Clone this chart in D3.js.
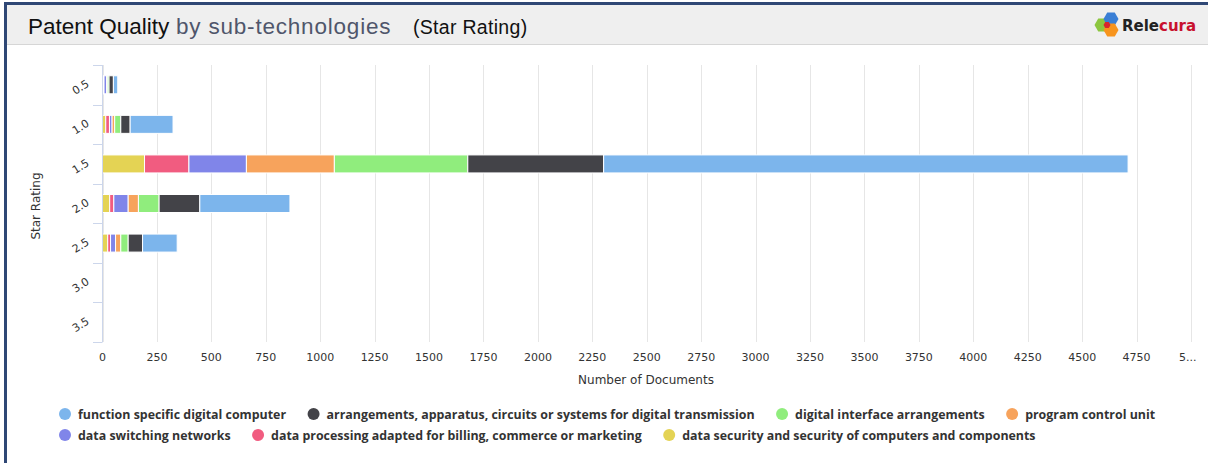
<!DOCTYPE html>
<html>
<head>
<meta charset="utf-8">
<script src="https://cdn.jsdelivr.net/npm/d3@7"></script>
<style>
  body { margin: 0; background: #fff; }
  svg { display: block; }
</style>
</head>
<body>
<svg id="chart" width="1208" height="463"></svg>
<script>
// star rating categories (y axis)
var ratings = ['0.5', '1.0', '1.5', '2.0', '2.5', '3.0', '3.5'];

// series, in legend order
var seriesNames = [
  'function specific digital computer',
  'arrangements, apparatus, circuits or systems for digital transmission',
  'digital interface arrangements',
  'program control unit',
  'data switching networks',
  'data processing adapted for billing, commerce or marketing',
  'data security and security of computers and components'
];
var seriesColors = ['#7cb5ec', '#434348', '#90ed7d', '#f7a35c', '#8085e9', '#f15c80', '#e4d354'];

// documents per rating (same order as ratings)
var functionSpecific    = [20, 197, 2409, 414, 159, 0, 0];
var digitalTransmission = [20, 43, 624, 187, 66, 0, 0];
var digitalInterface    = [8, 28, 613, 95, 34, 0, 0];
var programControl      = [3, 12, 404, 47, 24, 0, 0];
var dataSwitching       = [12, 12, 264, 66, 23, 0, 0];
var billing             = [3, 17, 204, 19, 13, 0, 0];
var dataSecurity        = [4, 15, 193, 33, 24, 0, 0];

var seriesValues = [functionSpecific, digitalTransmission, digitalInterface,
  programControl, dataSwitching, billing, dataSecurity];

var xTicks = [0, 250, 500, 750, 1000, 1250, 1500, 1750, 2000, 2250, 2500, 2750,
  3000, 3250, 3500, 3750, 4000, 4250, 4500, 4750, 5000];
var xMax = 5000;

var svg = d3.select('#chart');

// ---- frame + header ----
svg.append('rect').attr('x', 5).attr('y', 5).attr('width', 1203).attr('height', 39).attr('fill', '#efefef');
svg.append('line').attr('x1', 5).attr('x2', 1208).attr('y1', 44.5).attr('y2', 44.5)
  .attr('stroke', '#d6d6d6').attr('stroke-width', 1);
svg.append('rect').attr('x', 4).attr('y', 2).attr('width', 1204).attr('height', 3).attr('fill', '#2f4775');
svg.append('rect').attr('x', 4).attr('y', 2).attr('width', 3).attr('height', 461).attr('fill', '#2f4775');

var title = svg.append('g').attr('font-family', '"Liberation Sans", Arial, sans-serif');
title.append('text').attr('x', 28).attr('y', 34).attr('font-size', 22.5).attr('fill', '#111')
  .text('Patent Quality');
title.append('text').attr('x', 176).attr('y', 34).attr('font-size', 22.5).attr('letter-spacing', 0.8)
  .attr('fill', '#4f566b').text('by sub-technologies');
title.append('text').attr('x', 413).attr('y', 34).attr('font-size', 19.5).attr('letter-spacing', 0.3)
  .attr('fill', '#111').text('(Star Rating)');

// logo: three hexagons + word mark
var hex = function (cx, cy, r) {
  var pts = d3.range(6).map(function (i) {
    var a = Math.PI / 3 * i;
    return [cx + r * Math.cos(a), cy + r * Math.sin(a)];
  });
  return d3.line()(pts) + 'Z';
};
var logo = svg.append('g');
logo.append('path').attr('d', hex(1102, 25, 7.5)).attr('fill', '#8cc63f');
logo.append('path').attr('d', hex(1111, 19, 7.5)).attr('fill', '#3a7fd5');
logo.append('path').attr('d', hex(1111, 30, 7.5)).attr('fill', '#f7941d');
logo.append('path').attr('d', hex(1107, 25, 3.5)).attr('fill', '#d9262c');
var word = logo.append('text').attr('x', 1122).attr('y', 31)
  .attr('font-family', '"DejaVu Sans", Verdana, sans-serif').attr('font-weight', 'bold').attr('font-size', 15);
word.append('tspan').attr('fill', '#222').text('Rele');
word.append('tspan').attr('fill', '#c8102e').text('cura');

// ---- plot ----
var x = d3.scaleLinear().domain([0, xMax]).range([102.5, 1191]);
var y = d3.scaleBand().domain(ratings).range([65, 342]).padding(0);
var barH = 18;

var plot = svg.append('g');

// vertical grid lines
plot.selectAll('line.grid').data(xTicks).enter().append('line')
  .attr('class', 'grid')
  .attr('x1', function (d) { return Math.round(x(d)) + 0.5; })
  .attr('x2', function (d) { return Math.round(x(d)) + 0.5; })
  .attr('y1', 65).attr('y2', 342)
  .attr('stroke', '#e6e6e6');

// stacked bars; first drawn (leftmost) is the last series in the legend
var rows = ratings.map(function (r, i) {
  var row = { rating: r };
  seriesNames.forEach(function (s, k) { row[s] = seriesValues[k][i]; });
  return row;
});
var stackKeys = seriesNames.slice().reverse();
var stacked = d3.stack().keys(stackKeys)(rows);
var colorOf = d3.scaleOrdinal().domain(seriesNames).range(seriesColors);

plot.selectAll('g.series').data(stacked).enter().append('g')
  .attr('class', 'series')
  .attr('fill', function (d) { return colorOf(d.key); })
  .selectAll('rect').data(function (d) { return d.filter(function (p) { return p[1] > p[0]; }); })
  .enter().append('rect')
  .attr('x', function (d) { return x(d[0]); })
  .attr('width', function (d) { return x(d[1]) - x(d[0]); })
  .attr('y', function (d) { return y(d.data.rating) + y.bandwidth() / 2 - barH / 2; })
  .attr('height', barH)
  .attr('stroke', '#fff').attr('stroke-width', 1);

// category axis (left)
plot.append('line').attr('x1', 102.5).attr('x2', 102.5).attr('y1', 65).attr('y2', 342)
  .attr('stroke', '#ccd6eb');
var boundaries = ratings.map(function (r) { return y(r); }).concat([342]);
plot.selectAll('line.ytick').data(boundaries).enter().append('line')
  .attr('class', 'ytick')
  .attr('x1', 93).attr('x2', 102.5)
  .attr('y1', function (d) { return Math.round(d) + 0.5; })
  .attr('y2', function (d) { return Math.round(d) + 0.5; })
  .attr('stroke', '#ccd6eb');

plot.selectAll('text.ylab').data(ratings).enter().append('text')
  .attr('class', 'ylab')
  .attr('transform', function (d) {
    return 'translate(90,' + (y(d) + y.bandwidth() / 2 + 1) + ') rotate(-32)';
  })
  .attr('text-anchor', 'end')
  .attr('font-family', '"DejaVu Sans", Verdana, sans-serif').attr('font-size', 11)
  .attr('fill', '#333')
  .text(function (d) { return d; });

// value axis labels
plot.selectAll('text.xlab').data(xTicks).enter().append('text')
  .attr('class', 'xlab')
  .attr('x', function (d) { return d === xMax ? x(d) - 12 : x(d); })
  .attr('y', 361)
  .attr('text-anchor', function (d) { return d === xMax ? 'start' : 'middle'; })
  .attr('font-family', '"DejaVu Sans", Verdana, sans-serif').attr('font-size', 11)
  .attr('fill', '#333')
  .text(function (d) { return d === xMax ? '5...' : d; });

svg.append('text').attr('x', 646).attr('y', 384).attr('text-anchor', 'middle')
  .attr('font-family', '"DejaVu Sans", Verdana, sans-serif').attr('font-size', 12)
  .attr('fill', '#333').text('Number of Documents');
svg.append('text').attr('transform', 'translate(40,206) rotate(-90)').attr('text-anchor', 'middle')
  .attr('font-family', '"DejaVu Sans", Verdana, sans-serif').attr('font-size', 12)
  .attr('fill', '#333').text('Star Rating');

// ---- legend: two rows, flowing left to right ----
var legendRows = [[0, 1, 2, 3], [4, 5, 6]];
var legendY = [414, 435];
var legend = svg.append('g')
  .attr('font-family', '"Open Sans", sans-serif').attr('font-weight', 700).attr('font-size', 12.4);
legendRows.forEach(function (row, ri) {
  var cx = 65;
  row.forEach(function (k) {
    legend.append('circle').attr('cx', cx).attr('cy', legendY[ri]).attr('r', 6)
      .attr('fill', seriesColors[k]);
    var t = legend.append('text').attr('x', cx + 13).attr('y', legendY[ri] + 4.5)
      .attr('fill', '#333').text(seriesNames[k]);
    cx = cx + 13 + t.node().getComputedTextLength() + 27.5;
  });
});
</script>
</body>
</html>
